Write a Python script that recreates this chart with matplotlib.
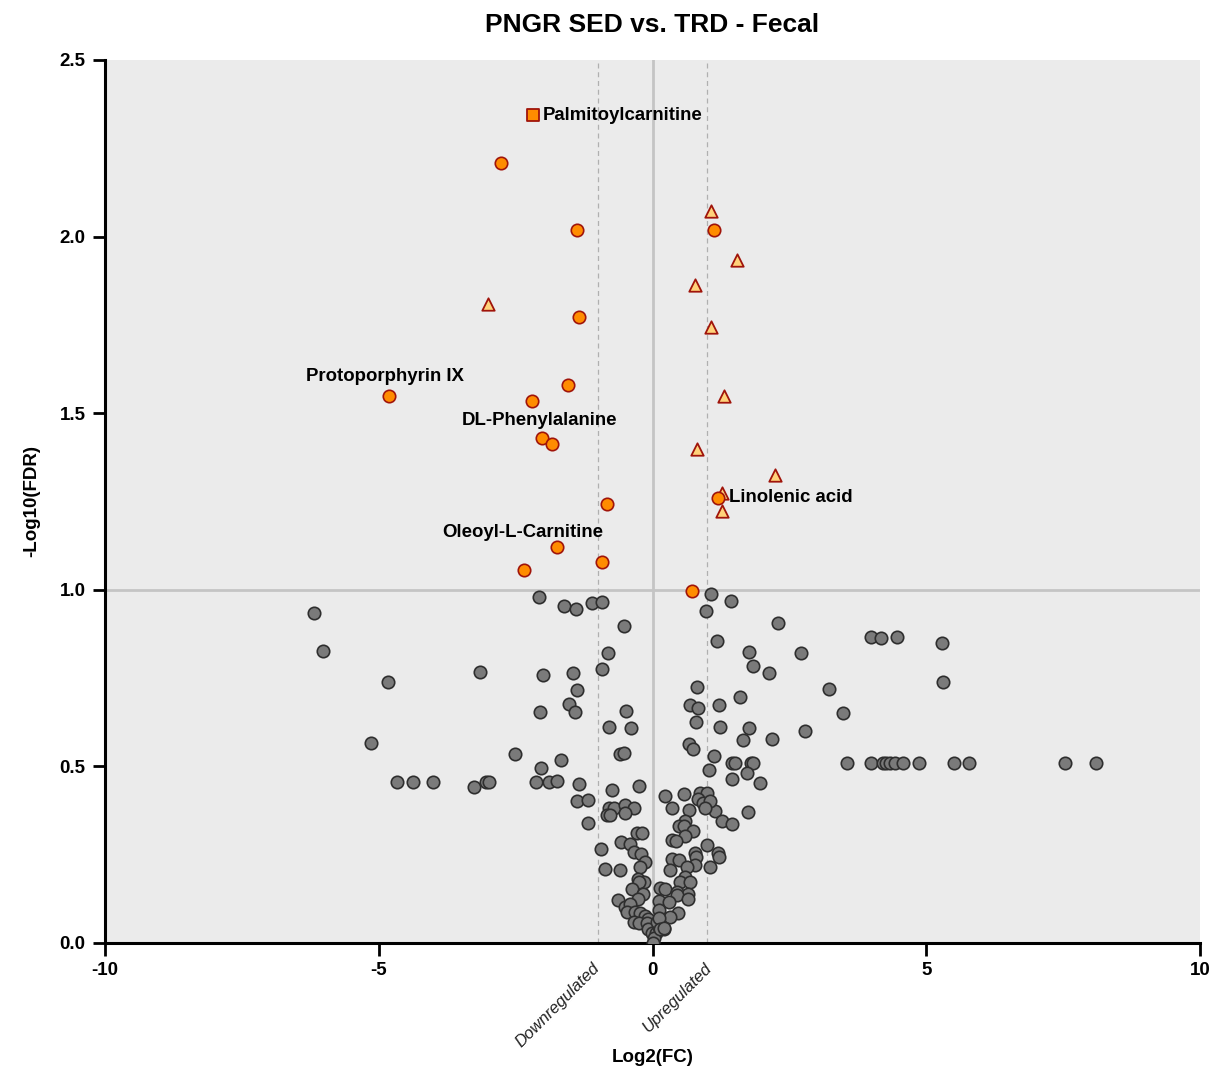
import matplotlib
matplotlib.use("Agg")
import matplotlib.pyplot as plt
import matplotlib.transforms as mtransforms

plt.rcParams['font.family'] = ['Liberation Sans', 'DejaVu Sans']
plt.rcParams['axes.unicode_minus'] = False

# non-significant metabolites (log2 FC, -log10 FDR)
gray_x = [-6.18, -6.01, -4.83, -5.14, -4.67, -4.37, -4.01, -3.27, -3.15, -3.04, -2.98,
          -2.51, -2.07, -2.00, -2.06, -2.04, -2.13, -1.89, -1.74, -1.67,
          -1.62, -1.39, -1.45, -1.38, -1.52, -1.42, -1.34, -1.38, -1.17, -1.18,
          -1.10, -0.92, -0.53, -0.81, -0.92, -0.48, -0.79, -0.39, -0.59, -0.52,
          -0.24, -0.74, -0.79, -0.70, -0.84, -0.78, -0.50, -0.33, -0.50,
          -0.94, -0.87, -0.59, -0.28, -0.19, -0.58, -0.42, -0.33, -0.22, -0.13, -0.23,
          -0.26, -0.15, -0.24, -0.37, -0.17, -0.26,
          -0.64, -0.50, -0.41, -0.47, -0.32, -0.23, -0.14, -0.08, -0.34, -0.24, -0.11,
          -0.08, -0.01, 0.06, 0.11, 0.20, 0.08, 0.02, 0.00,
          1.07, 1.43, 0.98, 2.30, 1.17, 1.77, 2.71, 1.84, 2.12, 0.82, 3.22, 1.59,
          0.69, 0.83, 1.21, 3.47, 0.79, 1.23, 1.77, 2.79, 1.65, 2.18, 0.66, 0.73,
          1.13, 1.04, 1.46, 1.51, 1.79, 1.84, 1.72, 1.45, 1.96,
          3.99, 4.17, 4.47, 5.29, 5.30,
          3.55, 3.99, 4.20, 4.26, 4.33, 4.43, 4.58, 4.86, 5.50, 5.78, 7.53, 8.10,
          1.75, 1.14, 1.26, 1.45,
          0.23, 0.58, 0.87, 1.00, 0.83, 0.93, 1.05, 0.96, 0.36, 0.67,
          0.60, 0.48, 0.57, 0.74, 0.60, 0.36, 0.43, 0.99,
          0.78, 0.79, 0.77, 1.20, 1.22, 1.05, 0.36, 0.48, 0.63, 0.31,
          0.60, 0.50, 0.68, 0.14, 0.23, 0.44, 0.65, 0.45, 0.64, 0.11, 0.30,
          0.46, 0.31, 0.11, 0.11, 0.14, 0.20]
gray_y = [0.934, 0.826, 0.738, 0.565, 0.457, 0.457, 0.457, 0.441, 0.766, 0.457, 0.457,
          0.534, 0.979, 0.760, 0.654, 0.495, 0.457, 0.457, 0.458, 0.517,
          0.955, 0.946, 0.764, 0.715, 0.678, 0.653, 0.451, 0.401, 0.405, 0.339,
          0.963, 0.966, 0.897, 0.821, 0.777, 0.657, 0.611, 0.609, 0.535, 0.538,
          0.444, 0.433, 0.382, 0.381, 0.362, 0.362, 0.391, 0.383, 0.369,
          0.265, 0.210, 0.207, 0.311, 0.310, 0.286, 0.279, 0.257, 0.251, 0.228, 0.215,
          0.180, 0.172, 0.172, 0.153, 0.140, 0.124,
          0.121, 0.103, 0.110, 0.089, 0.089, 0.084, 0.075, 0.069, 0.060, 0.056, 0.057,
          0.041, 0.027, 0.029, 0.046, 0.041, 0.060, 0.013, 0.000,
          0.988, 0.967, 0.941, 0.906, 0.855, 0.823, 0.820, 0.784, 0.763, 0.724, 0.718, 0.697,
          0.673, 0.666, 0.673, 0.652, 0.625, 0.612, 0.608, 0.601, 0.574, 0.578, 0.563, 0.548,
          0.529, 0.490, 0.509, 0.509, 0.509, 0.509, 0.480, 0.464, 0.454,
          0.866, 0.863, 0.866, 0.849, 0.739,
          0.509, 0.509, 0.509, 0.509, 0.509, 0.509, 0.509, 0.509, 0.509, 0.509, 0.509, 0.509,
          0.372, 0.374, 0.344, 0.336,
          0.417, 0.422, 0.426, 0.424, 0.408, 0.397, 0.403, 0.383, 0.381, 0.377,
          0.346, 0.332, 0.332, 0.318, 0.303, 0.292, 0.290, 0.277,
          0.256, 0.244, 0.221, 0.254, 0.243, 0.214, 0.239, 0.235, 0.216, 0.208,
          0.188, 0.174, 0.174, 0.156, 0.152, 0.145, 0.140, 0.135, 0.125, 0.120, 0.116,
          0.086, 0.074, 0.093, 0.072, 0.039, 0.042]

# significant metabolites, circles
sig_x = [-2.77, -1.38, 1.12, -1.34, -1.54, -4.81, -2.20, -2.02, -1.84, -0.83, 1.20,
         -1.74, -0.92, -2.35, 0.72]
sig_y = [2.208, 2.019, 2.019, 1.772, 1.580, 1.549, 1.535, 1.430, 1.413, 1.243, 1.260,
         1.121, 1.079, 1.056, 0.997]

# triangles
tri_x = [1.07, 1.54, 0.78, -3.00, 1.07, 1.31, 0.81, 2.24, 1.27, 1.27]
tri_y = [2.072, 1.934, 1.863, 1.809, 1.744, 1.549, 1.399, 1.325, 1.274, 1.223]

# square
sq_x = [-2.18]
sq_y = [2.344]

labels = ['Palmitoylcarnitine', 'Protoporphyrin IX', 'DL-Phenylalanine',
          'Linolenic acid', 'Oleoyl-L-Carnitine']
label_x = [-2.00, -4.89, -2.07, 1.40, -2.37]
label_y = [2.344, 1.603, 1.478, 1.260, 1.161]
label_ha = ['left', 'center', 'center', 'left', 'center']

fig = plt.figure(figsize=(12.17, 10.70), dpi=100)
ax = fig.add_axes([0.0863, 0.1187, 0.8998, 0.8253])
ax.set_facecolor('#EBEBEB')

# reference lines
ax.axvline(0, color='#C4C4C4', lw=2, zorder=1)
ax.axhline(1, color='#C4C4C4', lw=2, zorder=1)
for xv in (-1, 1):
    ax.axvline(xv, color='#B0B0B0', lw=0.9, ls=(0, (4, 3)), zorder=1)

ax.scatter(gray_x, gray_y, s=80, c='#7A7A7A', edgecolors='#2E2E2E', linewidths=1.2, zorder=3)
ax.scatter(tri_x, tri_y, s=80, marker='^', c='#FFD27A', edgecolors='#A0140A', linewidths=1.3, zorder=4)
ax.scatter(sig_x, sig_y, s=80, c='#FF8C00', edgecolors='#A0140A', linewidths=1.2, zorder=5)
ax.scatter(sq_x, sq_y, s=75, marker='s', c='#FF8C00', edgecolors='#A0140A', linewidths=1.3, zorder=5)

for t, x, y, ha in zip(labels, label_x, label_y, label_ha):
    ax.text(x, y, t, ha=ha, va='center', fontsize=13.4, fontweight='bold', zorder=6)

ax.set_xlim(-10, 10)
ax.set_ylim(0, 2.5)
ax.set_xticks([-10, -5, 0, 5, 10])
ax.set_yticks([0, 0.5, 1.0, 1.5, 2.0, 2.5])
ax.set_yticklabels(['0.0', '0.5', '1.0', '1.5', '2.0', '2.5'])

for s in ('top', 'right'):
    ax.spines[s].set_visible(False)
for s in ('left', 'bottom'):
    ax.spines[s].set_linewidth(2.2)
    ax.spines[s].set_color('black')
ax.tick_params(axis='both', direction='out', length=9, width=2, labelsize=13.5, pad=5)
for lab in ax.get_xticklabels() + ax.get_yticklabels():
    lab.set_fontweight('bold')

# regulation direction hints under the axis
trans = mtransforms.blended_transform_factory(ax.transData, ax.transAxes)
ax.text(-1.1, -0.02, 'Downregulated', transform=trans, rotation=45, ha='right', va='top',
        fontsize=12, style='italic', color='#222222', rotation_mode='anchor')
ax.text(0.95, -0.02, 'Upregulated', transform=trans, rotation=45, ha='right', va='top',
        fontsize=12, style='italic', color='#222222', rotation_mode='anchor')

ax.set_xlabel('Log2(FC)', fontsize=13.5, fontweight='bold', labelpad=50)
ax.set_ylabel('-Log10(FDR)', fontsize=13.5, fontweight='bold', labelpad=14)
ax.set_title('PNGR SED vs. TRD - Fecal', fontsize=19, fontweight='bold', pad=20)

fig.savefig('out.png', dpi=100)
